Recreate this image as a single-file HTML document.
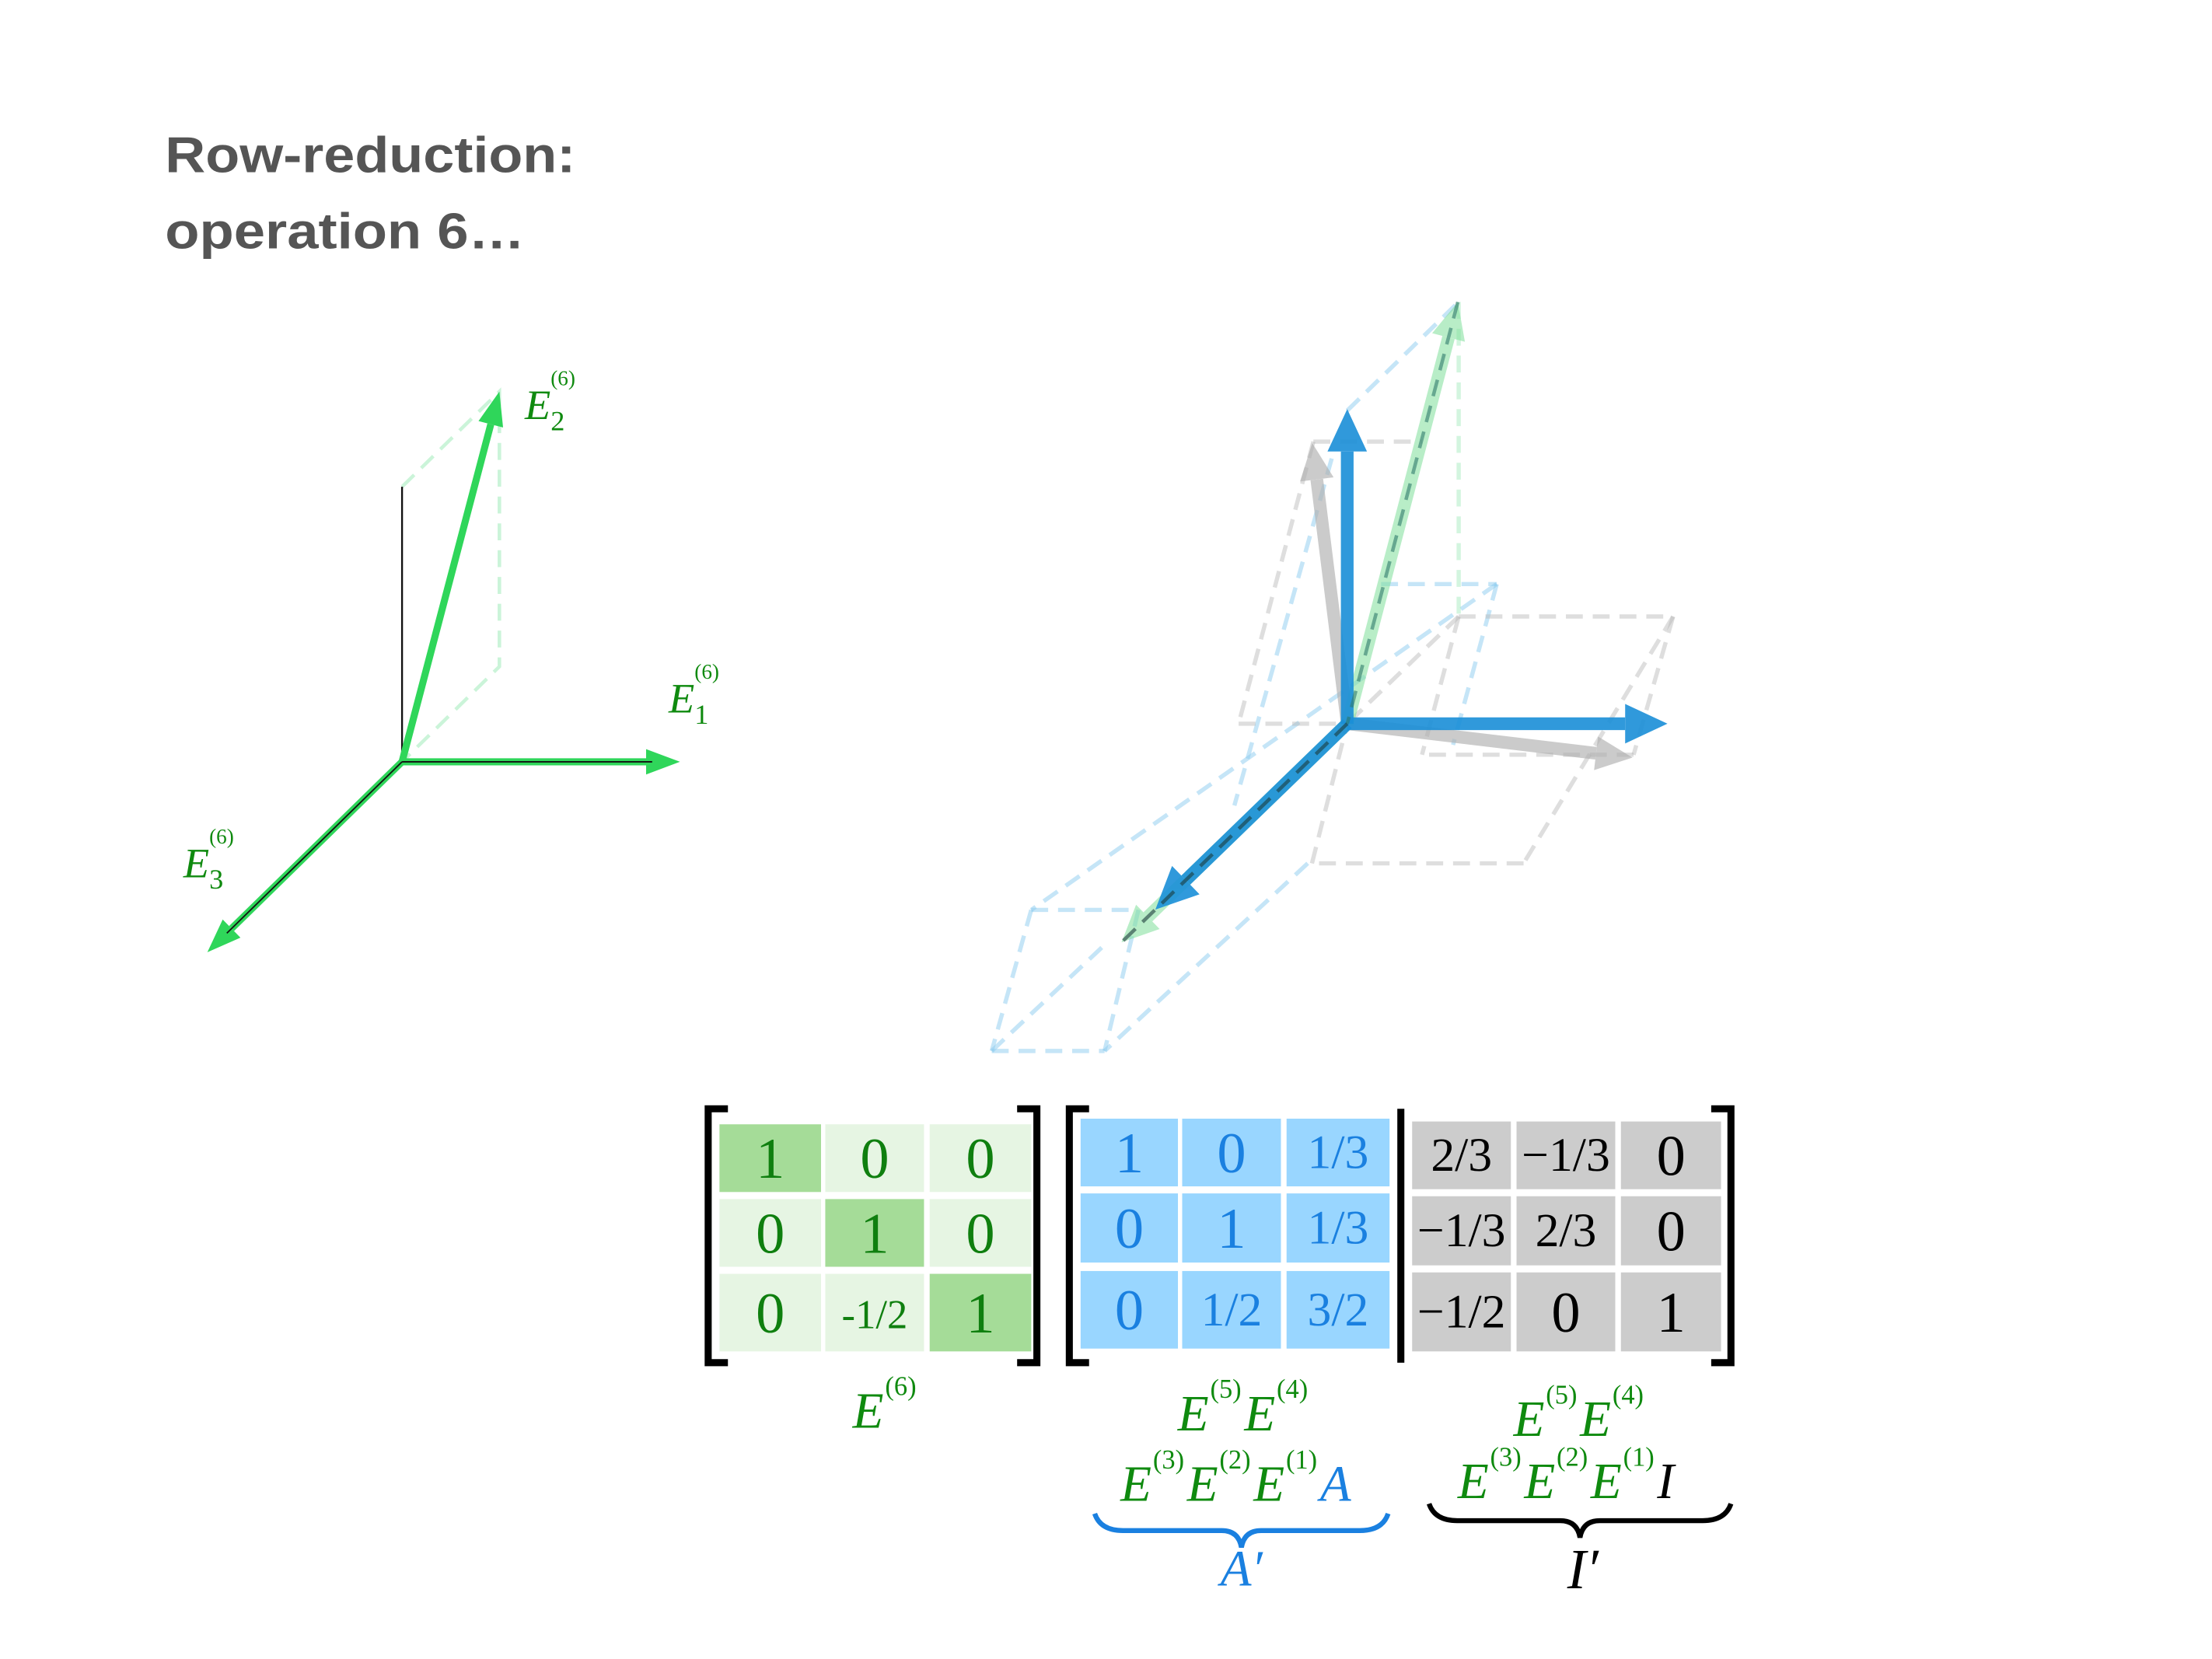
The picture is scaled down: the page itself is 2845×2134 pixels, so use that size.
<!DOCTYPE html>
<html><head><meta charset="utf-8"><style>
html,body{margin:0;padding:0;background:#fff;}
svg{display:block;}
.t{font-family:"Liberation Serif",serif;}
</style></head><body>
<svg id="fig" width="2845" height="2134" viewBox="0 0 1568 1176" xmlns="http://www.w3.org/2000/svg">
<rect width="1568" height="1176" fill="#fff"/>
<text x="117" y="122" font-family="Liberation Sans, sans-serif" font-weight="bold" font-size="36" fill="#555" textLength="291" lengthAdjust="spacingAndGlyphs">Row-reduction:</text>
<text x="117" y="176" font-family="Liberation Sans, sans-serif" font-weight="bold" font-size="36" fill="#555" textLength="255" lengthAdjust="spacingAndGlyphs">operation 6…</text>
<g id="left"></g>
<g id="right"></g>
<g id="mats"></g>
</svg>
<script>
// ---- vector data (3D components) ----
const leftVecs = [[1,0,0],[0,1,-0.5],[0,0,1]];
const blueVecs = [[1,0,0],[0,1,0],[0,0,0.85]];
const grayVecs = [[1,0,0.155],[0,1,0.155]];
const greenVecs = [[0,1,-0.49],[0,0,1]];
const E6 = [["1","0","0"],["0","1","0"],["0","-1/2","1"]];
const Ap = [["1","0","1/3"],["0","1","1/3"],["0","1/2","3/2"]];
const Ip = [["2/3","−1/3","0"],["−1/3","2/3","0"],["−1/2","0","1"]];

const NS="http://www.w3.org/2000/svg";
function mk(tag,attrs,parent){const e=document.createElementNS(NS,tag);for(const k in attrs)e.setAttribute(k,attrs[k]);parent.appendChild(e);return e;}
function proj(o,ex,ey,ez,v){return [o[0]+v[0]*ex[0]+v[1]*ey[0]+v[2]*ez[0], o[1]+v[0]*ex[1]+v[1]*ey[1]+v[2]*ez[1]];}
function arrow(g,o,t,col,w,hl,hw,op,name){
  const dx=t[0]-o[0],dy=t[1]-o[1],L=Math.hypot(dx,dy),ux=dx/L,uy=dy/L,px=-uy,py=ux;
  const bx=t[0]-ux*hl,by=t[1]-uy*hl;
  const a=mk('g',{opacity:op},g);
  
  
  mk('line',{x1:o[0],y1:o[1],x2:bx,y2:by,stroke:col,'stroke-width':w},a);
  mk('polygon',{points:`${t[0]},${t[1]} ${bx+px*hw},${by+py*hw} ${bx-px*hw},${by-py*hw}`,fill:col},a);
  return a;
}
function dash(g,pts,col,w,op,name){
  const p=mk('polyline',{points:pts.map(p=>p.join(',')).join(' '),fill:'none',stroke:col,'stroke-width':w,'stroke-dasharray':'12 7',opacity:op},g);
  
  
}

// ---- left diagram ----
const L=document.getElementById('left');
const lo=[285,540], lex=[197,0], ley=[0,-195], lez=[-138,135];
const lP=v=>proj(lo,lex,ley,lez,v);
dash(L,[lP([0,1,0]),lP(leftVecs[1]),lP([0,0,-0.5]),lo],'#a8ecbf',2.5,0.6,'left-dashed-box');
mk('line',{x1:lo[0],y1:lo[1],x2:lP([0,1,0])[0],y2:lP([0,1,0])[1],stroke:'#111','stroke-width':1.3},L);
['E1','E2','E3'].forEach((n,i)=>{arrow(L,lo,lP(leftVecs[i]),'#2fd65a',5,24,9,1,'left-vector-'+n.toLowerCase());});
[lP(leftVecs[0]),lP(leftVecs[2])].forEach((t,i)=>{const l=mk('line',{x1:lo[0],y1:lo[1],x2:t[0]-(t[0]-lo[0])*0.1,y2:t[1]-(t[1]-lo[1])*0.1,stroke:'#111','stroke-width':1},L);});
function lbl(g,x,y,sub,name){const t=mk('text',{x:x,y:y,class:'t','font-style':'italic','font-size':30,fill:'#0f8a0f'},g);
 t.innerHTML=`E<tspan font-style="normal" font-size="20" dy="8">${sub}</tspan><tspan font-style="normal" font-size="15" dx="-10" dy="-32">(6)</tspan>`;}
lbl(L,372,297,'2','label-e2');
lbl(L,474,505,'1','label-e1');
lbl(L,130,622,'3','label-e3');

// ---- right diagram ----
const R=document.getElementById('right');
const ro=[955,513], rex=[227,0], rey=[0,-223], rez=[-160,155];
const rP=v=>proj(ro,rex,rey,rez,v);
const bl='#8ccbf0', gr='#b5b5b5';
[[[944,325],[875,571]],[[1061,414],[731,645]],[[979,414],[1061,414]],[[1061,414],[1030,528]],[[927,612],[783,745]],
 [[731,645],[807,645]],[[703,745],[783,745]],[[731,645],[703,745]],[[807,645],[783,745]],[[703,745],[786,667]],[[955,291],[1034,214]]]
 .forEach(s=>dash(R,s,bl,3,0.5,'blue-dashed-edge'));
[[[931,313],[1008,313]],[[931,313],[878,513]],[[878,513],[955,513]],[[1034,437],[1186,437]],[[1186,437],[1158,535]],[[1158,535],[1008,535]],
 [[1186,437],[1080,612]],[[1080,612],[930,612]],[[930,612],[955,513]],[[1034,437],[955,513]],[[1034,437],[1008,535]]]
 .forEach(s=>dash(R,s,gr,3,0.45,'gray-dashed-edge'));
dash(R,[[1034,214],[1034,437]],'#a8ecbf',3,0.5,'green-dashed-edge');
grayVecs.forEach((v,i)=>arrow(R,ro,rP(v),'#b0b0b0',9,26,12,0.65,'gray-vector-'+(i+1)));
greenVecs.forEach((v,i)=>arrow(R,ro,rP(v),'#7fe09a',9,26,12,0.55,'green-vector-'+(i+1)));
blueVecs.forEach((v,i)=>arrow(R,ro,rP(v),'#1a8fd8',9,30,14,0.9,'blue-vector-'+(i+1)));
dash(R,[rP(greenVecs[0]),ro],'#2f7a6a',2.5,0.6,'green-inner-dash');
dash(R,[ro,rP(greenVecs[1])],'#1a3a3a',2.5,0.6,'green-inner-dash');

// ---- matrices ----
const M=document.getElementById('mats');
function matrix(data,cols,rows,fill,txt,name,diag){
  const g=mk('g',{},M);
  data.forEach((row,r)=>row.forEach((v,c)=>{
    const f=diag?(r===c?diag[0]:diag[1]):fill;
    const rc=mk('rect',{x:cols[c][0],y:rows[r][0],width:cols[c][1]-cols[c][0],height:rows[r][1]-rows[r][0],fill:f},g);
    
    const small=v.length>2;
    const t=mk('text',{x:(cols[c][0]+cols[c][1])/2,y:(rows[r][0]+rows[r][1])/2+(small?11:14),'text-anchor':'middle',class:'t','font-size':small?(name==='e6'?29:34):41,fill:txt},g);
    
    t.textContent=v;
  }));
}
matrix(E6,[[510,582],[585,655],[659,731]],[[797,845],[850,898],[903,958]],null,'#0f7f0f','e6',['#a5dc98','#e6f5e3']);
matrix(Ap,[[766,835],[838,908],[912,985]],[[793,841],[846,895],[901,956]],'#99d6ff','#1a80e0','a-prime');
matrix(Ip,[[1001,1071],[1075,1145],[1149,1220]],[[795,843],[848,897],[902,958]],'#cccccc','#000','i-prime');
function bracket(x,y1,y2,dir,name){const p=mk('path',{d:`M${x+dir*14},${y1} H${x} V${y2} H${x+dir*14}`,fill:'none',stroke:'#000','stroke-width':5},M);}
bracket(502,786,966,1,'left-bracket-e6');bracket(735,786,966,-1,'right-bracket-e6');
bracket(758,786,966,1,'left-bracket-aug');bracket(1227,786,966,-1,'right-bracket-aug');
mk('line',{x1:993,y1:786,x2:993,y2:966,stroke:'#000','stroke-width':5},M);
function expr(cx,y,parts,name){
  const g=mk('g',{},M);
  const items=[];let x=0;
  parts.forEach(p=>{
    const b=mk('text',{x:0,y:y,class:'t','font-style':'italic','font-size':36,fill:p[2]||'#0f8a0f'},g);b.textContent=p[0];
    const bw=b.getComputedTextLength();items.push([b,x]);x+=bw;
    if(p[1]){const s=mk('text',{x:0,y:y-23,class:'t','font-size':19,fill:'#0f8a0f'},g);s.textContent='('+p[1]+')';const sw=s.getComputedTextLength();items.push([s,x+1]);x+=sw+3;}
  });
  const x0=cx-x/2;items.forEach(([e,dx])=>e.setAttribute('x',x0+dx));
}
expr(628,1012,[['E','6']],'label-e6');
expr(882,1014,[['E','5'],['E','4']],'label-a-line1');
expr(876,1064,[['E','3'],['E','2'],['E','1'],['A',null,'#1a80e0']],'label-a-line2');
expr(1120,1018,[['E','5'],['E','4']],'label-i-line1');
expr(1110,1062,[['E','3'],['E','2'],['E','1'],[' I',null,'#000']],'label-i-line2');
function brace(x1,x2,y,col,name){const m=(x1+x2)/2;const p=mk('path',{d:`M${x1},${y} Q${x1+4},${y+12} ${x1+20},${y+12} H${m-14} Q${m-2},${y+12} ${m},${y+24} Q${m+2},${y+12} ${m+14},${y+12} H${x2-20} Q${x2-4},${y+12} ${x2},${y}`,fill:'none',stroke:col,'stroke-width':3.5},M);}
brace(776,984,1073,'#1a80e0','a-prime-brace');
brace(1013,1227,1066,'#000','i-prime-brace');
const ap=mk('text',{x:880,y:1124,'text-anchor':'middle',class:'t','font-style':'italic','font-size':36,fill:'#1a80e0'},M);ap.textContent="A′";
const ip=mk('text',{x:1122,y:1126,'text-anchor':'middle',class:'t','font-style':'italic','font-size':40,fill:'#000'},M);ip.textContent="I′";
</script>
</body></html>
